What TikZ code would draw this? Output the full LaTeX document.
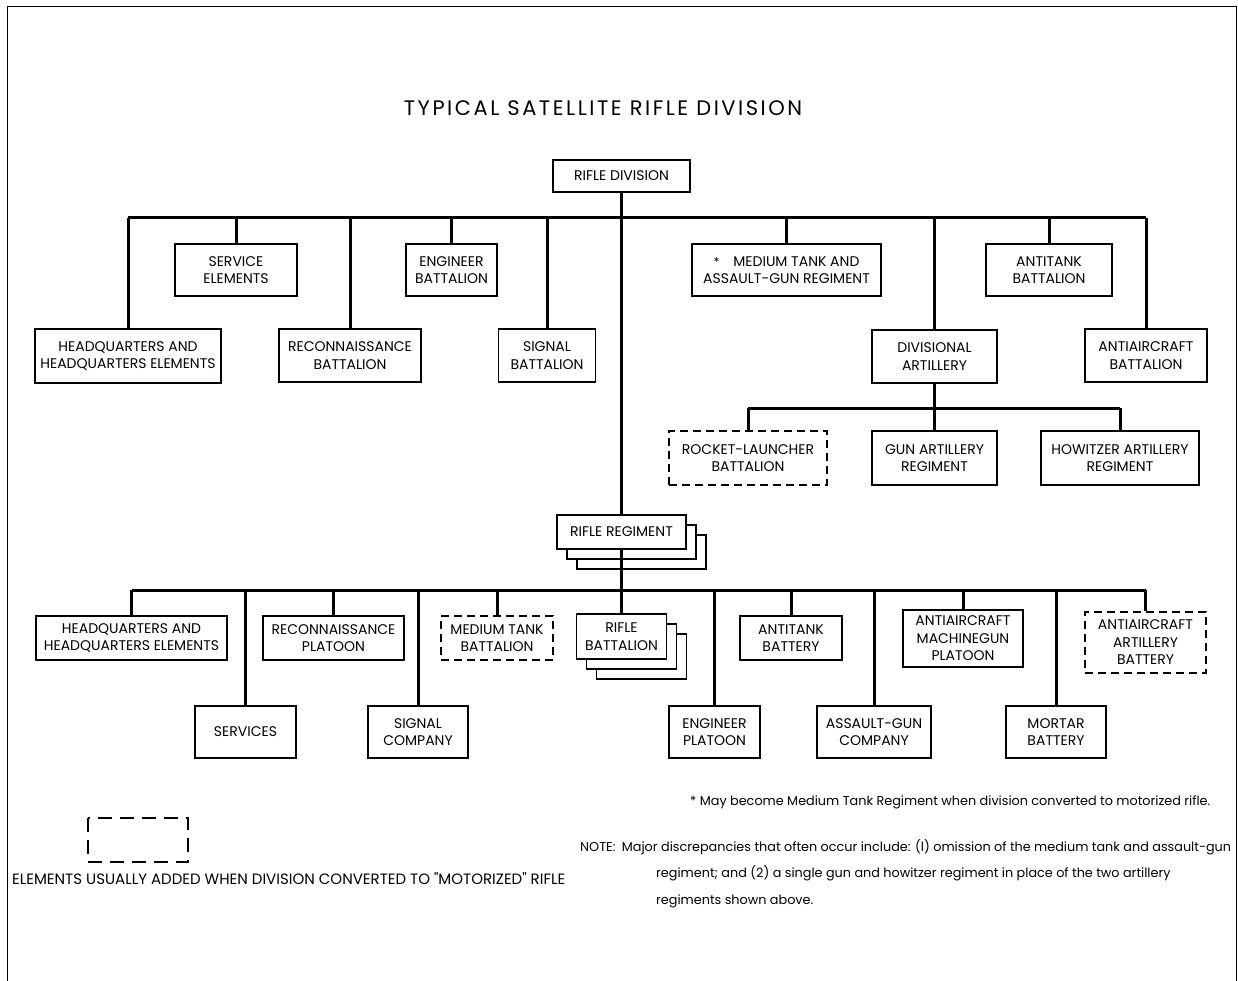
\documentclass[tikz,border=0pt]{standalone}
\usepackage{fontspec}
\setmainfont{Poppins}
\newfontfamily\chartfont{Poppins}
\usetikzlibrary{shadows}
\tikzset{
  unit/.style={draw, line width=1.3pt, fill=white, align=center, inner sep=0pt,
    font=\chartfont\fontsize{14}{17.5}\selectfont},
  sz/.style 2 args={minimum width=#1pt, minimum height=#2pt},
  added/.style={unit, dash pattern=on 8pt off 5pt, line width=1.5pt},
  stacked/.style={double copy shadow={shadow xshift=10pt, shadow yshift=-10pt, draw, fill=white, line width=1.3pt}},
  conn/.style={line width=3pt},
  notetext/.style={inner sep=0pt, anchor=base west, font=\chartfont\fontsize{12.8}{15}\selectfont}
}
\begin{document}
\begin{tikzpicture}[x=1pt,y=-1pt]
\useasboundingbox (0,0) rectangle (1238,981);

% sheet frame
\draw[line width=1pt] (7,981) -- (7,7) -- (1236,7) -- (1236,981);

% title
\node[inner sep=0pt, anchor=base, font=\chartfont\fontsize{21}{24}\selectfont\addfontfeature{LetterSpace=12}] (title) at (603,116) {TYPICAL SATELLITE RIFLE DIVISION};

% division level
\node[unit, sz={137}{32}] (div) at (621.5,176) {RIFLE DIVISION};
\node[unit, sz={186}{54}] (hqe) at (128,356) {HEADQUARTERS AND\\HEADQUARTERS ELEMENTS};
\node[unit, sz={122}{52}] (svc) at (236,270) {SERVICE\\ELEMENTS};
\node[unit, sz={142}{53}] (rcn) at (350,355.5) {RECONNAISSANCE\\BATTALION};
\node[unit, sz={91}{52}] (eng) at (451.5,270) {ENGINEER\\BATTALION};
\node[unit, sz={97}{53}] (sig) at (547,355.5) {SIGNAL\\BATTALION};
\node[unit, sz={189}{52}] (mta) at (786.5,270) {{\fontsize{12}{12}\selectfont *}\quad MEDIUM TANK AND\\ASSAULT-GUN REGIMENT};
\node[unit, sz={125}{53}] (dart) at (934.5,356.5) {DIVISIONAL\\ARTILLERY};
\node[unit, sz={126}{52}] (atb) at (1049,270) {ANTITANK\\BATTALION};
\node[unit, sz={122}{53}] (aab) at (1146,355.5) {ANTIAIRCRAFT\\BATTALION};

% divisional artillery
\node[added, sz={158}{54}] (rl) at (748,458) {ROCKET-LAUNCHER\\BATTALION};
\node[unit, sz={125}{54}] (gun) at (934.5,458) {GUN ARTILLERY\\REGIMENT};
\node[unit, sz={158}{54}] (how) at (1120,458) {HOWITZER ARTILLERY\\REGIMENT};

% regiment level
\node[unit, sz={129}{34}, stacked] (reg) at (621.5,532) {RIFLE REGIMENT};
\node[unit, sz={191}{44}] (hq2) at (131.5,638) {HEADQUARTERS AND\\HEADQUARTERS ELEMENTS};
\node[unit, sz={101}{52}] (svcs) at (245.5,732) {SERVICES};
\node[unit, sz={141}{44}] (rcp) at (333.5,638) {RECONNAISSANCE\\PLATOON};
\node[unit, sz={100}{52}] (sgc) at (418,732) {SIGNAL\\COMPANY};
\node[added, sz={112}{44}] (mtb) at (497,638) {MEDIUM TANK\\BATTALION};
\node[unit, sz={90}{45}, stacked] (bn) at (621.5,636.5) {RIFLE\\BATTALION};
\node[unit, sz={91}{52}] (engp) at (714.5,732) {ENGINEER\\PLATOON};
\node[unit, sz={102}{44}] (atbat) at (791,638) {ANTITANK\\BATTERY};
\node[unit, sz={114}{52}] (agc) at (874,732) {ASSAULT-GUN\\COMPANY};
\node[unit, sz={120}{57}] (aamg) at (963,638.5) {ANTIAIRCRAFT\\MACHINEGUN\\PLATOON};
\node[unit, sz={100}{52}] (mort) at (1056,732) {MORTAR\\BATTERY};
\node[added, sz={121}{61}] (aaab) at (1145.5,642.5) {ANTIAIRCRAFT\\ARTILLERY\\BATTERY};

% bus lines
\coordinate (busA) at (621.5,218);
\coordinate (busB) at (934.5,408);
\coordinate (busC) at (621.5,590);

% division trunk and branches
\draw[conn] (div.south) -- (reg.north);
\draw[conn] (hqe.north |- busA) -- (aab.north |- busA);
\foreach \n in {hqe,svc,rcn,eng,sig,mta,dart,atb,aab}
  \draw[conn] (\n.north |- busA) -- (\n.north);

% artillery branches
\draw[conn] (dart.south) -- (busB);
\draw[conn] (rl.north |- busB) -- (how.north |- busB);
\foreach \n in {rl,gun,how}
  \draw[conn] (\n.north |- busB) -- (\n.north);

% regiment branches
\draw[conn] (reg.south) -- (bn.north);
\draw[conn] (hq2.north |- busC) -- (aaab.north |- busC);
\foreach \n in {hq2,svcs,rcp,sgc,mtb,engp,atbat,agc,aamg,mort,aaab}
  \draw[conn] (\n.north |- busC) -- (\n.north);

% legend
\draw[line width=1.3pt, dash pattern=on 14pt off 8pt] (88,818) rectangle (188,862);
\node[inner sep=0pt, anchor=base west, font=\chartfont\fontsize{15}{17}\selectfont] (legend) at (12,884)
  {ELEMENTS USUALLY ADDED WHEN DIVISION CONVERTED TO "MOTORIZED" RIFLE};

% notes
\node[notetext] (foot) at (690,805) {* May become Medium Tank Regiment when division converted to motorized rifle.};
\node[notetext] (note1) at (580,851) {NOTE:\enspace Major discrepancies that often occur include: (l) omission of the medium tank and assault-gun};
\node[notetext] (note2) at (656,877) {regiment; and (2) a single gun and howitzer regiment in place of the two artillery};
\node[notetext] (note3) at (656,904) {regiments shown above.};
\end{tikzpicture}
\end{document}
